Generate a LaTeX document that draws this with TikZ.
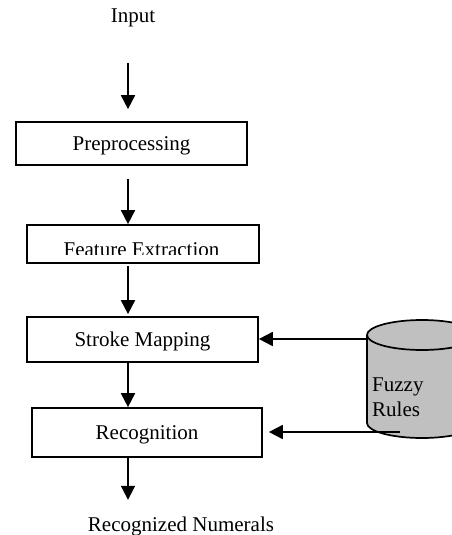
\documentclass[tikz,border=0pt]{standalone}
\usepackage{fontspec}
\setmainfont{Liberation Serif}
\usetikzlibrary{arrows.meta}
\begin{document}
\begin{tikzpicture}[x=1pt,y=-1pt,
  every node/.style={font=\fontsize{21}{25}\selectfont, inner sep=0pt},
  arr/.style={line width=1.8pt, -{Triangle[length=14pt,width=14pt]}},
  lbl/.style={text height=15pt, text depth=5pt},
  box/.style={draw, line width=1.7pt, text height=17pt, text depth=3pt}]
\useasboundingbox (0,0) rectangle (452,535);
\coordinate (xa) at (128,0);
% cylinder
\fill[fill={rgb,255:red,192;green,192;blue,192}] (367,335) -- (367,423) arc[start angle=180,end angle=0,x radius=55,y radius=15] -- (477,335) arc[start angle=0,end angle=-180,x radius=55,y radius=15] -- cycle;
\draw[line width=1.7pt] (367,335) -- (367,423) arc[start angle=180,end angle=0,x radius=55,y radius=15] -- (477,335);
\draw[line width=1.7pt] (422,335) ellipse[x radius=55,y radius=15];
\node[anchor=west, align=left] (rules) at (372,397) {Fuzzy\\Rules};
\coordinate (db1) at (367,339);
\coordinate (db2) at (400,432);
% nodes
\node[lbl] (input) at (133,18) {Input};
\node[box, minimum width=231pt, minimum height=43pt] (pre) at (131.5,143.5) {Preprocessing};
\node[draw, line width=1.7pt, minimum width=232pt, minimum height=38pt] (feat) at (143,244) {};
\begin{scope}
\clip (27,226) rectangle (259,254.5);
\node[anchor=base] (feattext) at (141.5,256) {Feature Extraction};
\end{scope}
\node[box, minimum width=231pt, minimum height=45pt] (stroke) at (142.5,339.5) {Stroke Mapping};
\node[box, minimum width=230pt, minimum height=49pt] (recog) at (147,432.5) {Recognition};
\node[lbl] (out) at (181,526) {Recognized Numerals};
% arrows
\draw[arr, shorten <=35pt, shorten >=12pt] (input.south -| xa) -- (pre.north -| xa);
\draw[arr, shorten <=13pt] (pre.south -| xa) -- (feat.north -| xa);
\draw[arr, shorten <=2pt, shorten >=2pt] (feat.south -| xa) -- (stroke.north -| xa);
\draw[arr] (stroke.south -| xa) -- (recog.north -| xa);
\draw[arr, shorten >=16pt] (recog.south -| xa) -- (out.north -| xa);
\draw[arr] (db1) -- (db1 -| stroke.east);
\draw[arr, shorten >=6pt] (db2) -- (db2 -| recog.east);
\end{tikzpicture}
\end{document}
